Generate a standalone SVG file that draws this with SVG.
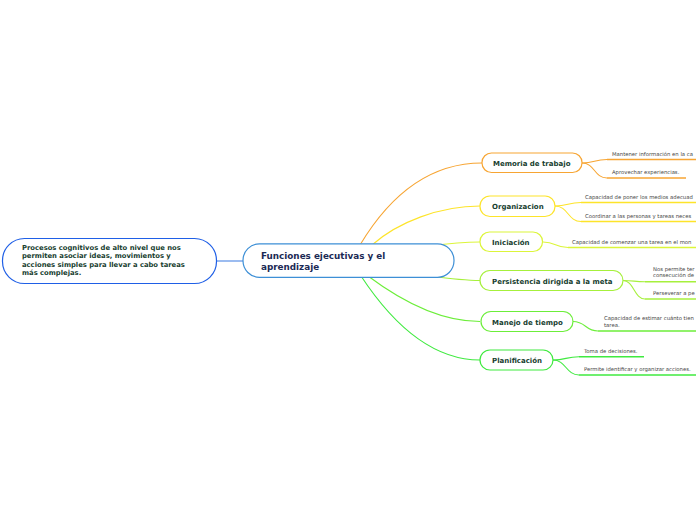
<svg xmlns="http://www.w3.org/2000/svg" width="696" height="520" viewBox="0 0 696 520">
<style>
.bg{fill:#ffffff}
.node{fill:#ffffff;stroke-width:1.2}
.nt{font-family:"DejaVu Sans",Verdana,sans-serif;font-weight:bold;font-size:7px;fill:#17402f}
.ct{font-family:"DejaVu Sans",Verdana,sans-serif;font-size:5.3px;fill:#444444}
.br{fill:none;stroke-width:1.1}
.ul{fill:none;stroke-width:1.6}
.o{stroke:#f7a533}.y{stroke:#fde42a}.l{stroke:#dcf53a}.p{stroke:#a6f03c}.m{stroke:#6cee3a}.g{stroke:#3fea3f}
</style>
<rect class="bg" x="0" y="0" width="696" height="520"/>
<g id="connectors">
<path d="M217 261 L243 261" fill="none" stroke="#5b8fe6" stroke-width="1.2"/>
<path class="br o" d="M360 245 C390 195 430 163 482 163"/>
<path class="br y" d="M372 245 C398 222 440 206 480 206"/>
<path class="br l" d="M430 246 C452 243 465 242 480 242"/>
<path class="br p" d="M430 276 C452 279 465 280.5 480 280.5"/>
<path class="br m" d="M368 276 C400 300 440 321.5 480 321.5"/>
<path class="br g" d="M361 276 C390 320 430 360 480 360"/>
<path class="br o" d="M582 163 C595 163 594 159.5 607 159.5"/>
<path class="br o" d="M582 163 C595 163 594 178 607 178"/>
<path class="br y" d="M555 206 C568 206 568 202.5 581 202.5"/>
<path class="br y" d="M555 206 C568 206 568 221.5 581 221.5"/>
<path class="br l" d="M543 242 C556 242 555 247.5 568 247.5"/>
<path class="br p" d="M623 280.5 C634 280.5 634 281.7 645 281.7"/>
<path class="br p" d="M623 280.5 C634 280.5 634 299 645 299"/>
<path class="br m" d="M573 321.5 C586 321.5 585 331 598 331"/>
<path class="br g" d="M553 360 C566 360 566 356.7 579 356.7"/>
<path class="br g" d="M553 360 C566 360 566 375 579 375"/>
<path class="ul o" d="M607 159.5 H696"/>
<path class="ul o" d="M607 178 H686"/>
<path class="ul y" d="M581 202.5 H696"/>
<path class="ul y" d="M581 221.5 H696"/>
<path class="ul l" d="M568 247.5 H696"/>
<path class="ul p" d="M645 281.7 H696"/>
<path class="ul p" d="M645 299 H696"/>
<path class="ul m" d="M598 331 H696"/>
<path class="ul g" d="M579 356.7 H644"/>
<path class="ul g" d="M579 375 H696"/>
</g>
<g id="n-left">
<rect class="node" x="2.5" y="238.5" width="214" height="45" rx="22" stroke="#1f5fe6"/>
<text class="nt" style="font-size:6.8px"><tspan x="22" y="249.5">Procesos cognitivos de alto nivel que nos</tspan><tspan x="22" y="258">permiten asociar ideas, movimientos y</tspan><tspan x="22" y="266.5">acciones simples para llevar a cabo tareas</tspan><tspan x="22" y="275">más complejas.</tspan></text>
</g>
<g id="n-root">
<rect class="node" x="243" y="243.8" width="211" height="33.5" rx="16.5" stroke="#3d8fd6"/>
<text class="nt" style="font-size:8.8px;fill:#1b2a55"><tspan x="261" y="259">Funciones ejecutivas y el</tspan><tspan x="261" y="270">aprendizaje</tspan></text>
</g>
<g id="n-memoria">
<rect class="node o" x="482" y="153" width="100" height="19.5" rx="9.5"/>
<text class="nt" x="493" y="165.5">Memoria de trabajo</text>
</g>
<g id="n-memoria-c1"><text class="ct" x="612" y="156">Mantener información en la ca</text></g>
<g id="n-memoria-c2"><text class="ct" x="612" y="174">Aprovechar experiencias.</text></g>
<g id="n-organizacion">
<rect class="node y" x="480" y="196" width="75" height="20.5" rx="10"/>
<text class="nt" x="492" y="209">Organizacion</text>
</g>
<g id="n-org-c1"><text class="ct" x="585" y="199">Capacidad de poner los medios adecuad</text></g>
<g id="n-org-c2"><text class="ct" x="585" y="217.5">Coordinar a las personas y tareas neces</text></g>
<g id="n-iniciacion">
<rect class="node l" x="480" y="232" width="62.5" height="19.5" rx="9.5"/>
<text class="nt" x="492" y="244.5">Iniciación</text>
</g>
<g id="n-ini-c1"><text class="ct" x="572" y="243.5">Capacidad de comenzar una tarea en el mon</text></g>
<g id="n-persistencia">
<rect class="node p" x="480" y="270.5" width="143" height="20" rx="10"/>
<text class="nt" x="492" y="283.5">Persistencia dirigida a la meta</text>
</g>
<g id="n-per-c1"><text class="ct"><tspan x="653" y="271">Nos permite ter</tspan><tspan x="653" y="277">consecución de</tspan></text></g>
<g id="n-per-c2"><text class="ct" x="653" y="295">Perseverar a pe</text></g>
<g id="n-manejo">
<rect class="node m" x="481" y="311.5" width="92" height="20" rx="10"/>
<text class="nt" x="492" y="324.5">Manejo de tiempo</text>
</g>
<g id="n-man-c1"><text class="ct"><tspan x="604" y="320">Capacidad de estimar cuánto tien</tspan><tspan x="604" y="326.5">tarea.</tspan></text></g>
<g id="n-planificacion">
<rect class="node g" x="480" y="350" width="73" height="20" rx="10"/>
<text class="nt" x="492" y="363">Planificación</text>
</g>
<g id="n-pla-c1"><text class="ct" x="584" y="352.5">Toma de decisiones.</text></g>
<g id="n-pla-c2"><text class="ct" x="584" y="371">Permite identificar y organizar acciones.</text></g>
</svg>
